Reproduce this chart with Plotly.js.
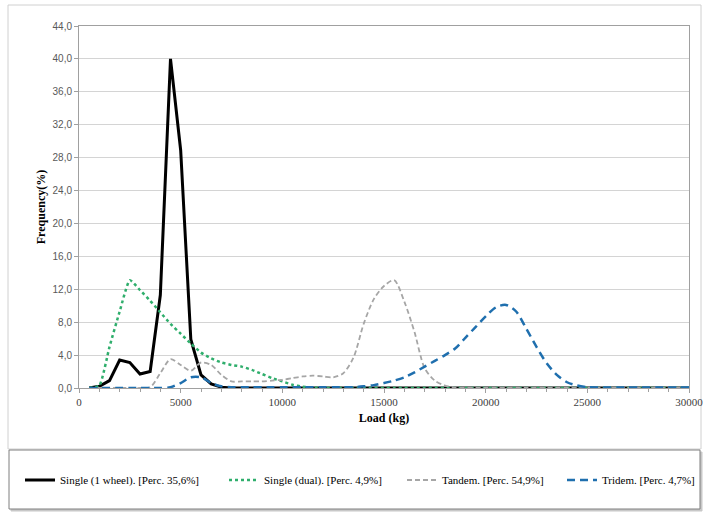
<!DOCTYPE html>
<html>
<head>
<meta charset="utf-8">
<script src="https://cdn.plot.ly/plotly-3.0.1.min.js"></script>
<style>html,body{margin:0;padding:0;background:#fff}#chart{width:709px;height:512px}</style>
</head>
<body>
<div id="chart"></div>
<script>
var loads = [500,1000,1500,2000,2500,3000,3500,4000,4500,5000,
  5500,6000,6500,7000,7500,8000,8500,9000,9500,10000,
  10500,11000,11500,12000,12500,13000,13500,14000,14500,15000,
  15500,16000,16500,17000,17500,18000,18500,19000,19500,20000,
  20500,21000,21500,22000,22500,23000,23500,24000,24500,25000,
  25500,26000,26500,27000,27500,28000,28500,29000,29500,30000];

var singleWheel = [0,0.2,0.9,3.4,3.1,1.7,2.0,11.3,40.0,28.9,
  5.9,1.6,0.5,0.1,0,0,0,0,0,0,
  0,0,0,0,0,0,0,0,0,0,
  0,0,0,0,0,0,0,0,0,0,
  0,0,0,0,0,0,0,0,0,0,
  0,0,0,0,0,0,0,0,0,0];

var singleDual = [0,0.3,5.0,9.3,13.1,11.9,10.6,9.2,7.8,6.6,
  5.4,4.3,3.6,3.1,2.8,2.6,2.2,1.7,1.2,0.8,
  0.4,0.15,0.05,0,0,0,0,0,0,0,
  0,0,0,0,0,0,0,0,0,0,
  0,0,0,0,0,0,0,0,0,0,
  0,0,0,0,0,0,0,0,0,0];

var tandem = [0,0,0,0,0,0,0.1,1.8,3.5,2.8,
  2.1,3.1,2.8,1.6,0.8,0.8,0.8,0.8,0.9,1.0,
  1.2,1.4,1.5,1.4,1.3,1.8,3.7,7.8,10.8,12.4,
  13.1,10.5,6.8,2.4,0.9,0.3,0.05,0,0,0,
  0,0,0,0,0,0,0,0,0,0,
  0,0,0,0,0,0,0,0,0,0];

var tridem = [0,0,0,0,0,0,0,0,0.1,0.6,
  1.3,1.3,0.6,0.2,0.1,0.1,0.1,0.1,0.1,0.1,
  0.1,0.1,0.1,0.1,0.1,0.1,0.1,0.2,0.35,0.6,
  0.9,1.3,1.9,2.6,3.3,4.0,4.8,6.1,7.4,8.7,
  9.8,10.1,9.3,7.2,5.0,3.0,1.6,0.7,0.3,0.1,
  0.05,0.05,0.05,0.05,0.05,0.05,0.05,0.05,0.05,0.05];

var seriesNames = ['Single (1 wheel). [Perc. 35,6%]','Single (dual). [Perc. 4,9%]','Tandem. [Perc. 54,9%]','Tridem. [Perc. 4,7%]'];

var serif = '"Liberation Serif", "Times New Roman", serif';

var traces = [
  {x: loads, y: singleWheel, name: seriesNames[0], type: 'scatter', mode: 'lines',
   line: {color: '#000000', width: 3}, legend: 'legend'},
  {x: loads, y: singleDual, name: seriesNames[1], type: 'scatter', mode: 'lines',
   line: {color: '#2fae6c', width: 2.5, dash: 'dot', shape: 'spline', smoothing: 0.5}, legend: 'legend2'},
  {x: loads, y: tandem, name: seriesNames[2], type: 'scatter', mode: 'lines',
   line: {color: '#a6a6a6', width: 1.8, dash: '5px,3px', shape: 'spline', smoothing: 0.8}, legend: 'legend3'},
  {x: loads, y: tridem, name: seriesNames[3], type: 'scatter', mode: 'lines',
   line: {color: '#1f6fae', width: 2.5, dash: '8px,5px', shape: 'spline', smoothing: 0.8}, legend: 'legend4'}
];

function px2x(p){ return (p - 79) / 610; }
function px2y(p){ return (388 - p) / 362; }

function legendAt(px){
  return {x: px2x(px), xanchor: 'left', y: px2y(480), yanchor: 'middle', orientation: 'h',
    bgcolor: 'rgba(0,0,0,0)', borderwidth: 0, font: {family: serif, size: 11, color: '#000'}};
}

var layout = {
  width: 709, height: 512,
  margin: {l: 79, r: 20, t: 26, b: 124, autoexpand: false},
  paper_bgcolor: '#ffffff', plot_bgcolor: '#ffffff',
  separators: ', ',
  showlegend: true,
  legend: legendAt(20),
  legend2: legendAt(224),
  legend3: legendAt(402),
  legend4: legendAt(562),
  xaxis: {
    range: [0, 30000], dtick: 5000, tick0: 0, tickformat: 'd', automargin: false,
    showgrid: false, zeroline: false,
    showline: true, linecolor: '#a0a0a0', linewidth: 1, mirror: true,
    ticks: 'outside', ticklen: 4, tickcolor: '#a0a0a0',
    minor: {dtick: 1000, ticks: 'outside', ticklen: 3, tickcolor: '#a0a0a0', showgrid: false},
    tickfont: {family: serif, size: 11, color: '#404040'},
    title: {text: '<b>Load (kg)</b>', font: {family: serif, size: 12, color: '#000'}, standoff: 6}
  },
  yaxis: {
    range: [0, 44], dtick: 4, tick0: 0, tickformat: '.1f', automargin: false,
    showgrid: true, gridcolor: '#d4d4d4', gridwidth: 1, zeroline: false,
    showline: true, linecolor: '#a0a0a0', linewidth: 1, mirror: true,
    ticks: 'outside', ticklen: 4, tickcolor: '#a0a0a0',
    tickfont: {family: '"Liberation Sans", Arial, sans-serif', size: 10, color: '#595959'},
    title: {text: '<b>Frequency(%)</b>', font: {family: serif, size: 12, color: '#000'}, standoff: 4}
  },
  shapes: [
    {type: 'rect', xref: 'paper', yref: 'paper', layer: 'below',
     x0: px2x(8), x1: px2x(701), y0: px2y(449), y1: px2y(5),
     line: {color: '#d0d0d0', width: 1}, fillcolor: 'rgba(0,0,0,0)'},
    {type: 'rect', xref: 'paper', yref: 'paper', layer: 'below',
     x0: px2x(11), x1: px2x(702), y0: px2y(511), y1: px2y(452),
     line: {color: '#c8c8c8', width: 1}, fillcolor: '#c8c8c8'},
    {type: 'rect', xref: 'paper', yref: 'paper', layer: 'below',
     x0: px2x(9), x1: px2x(700), y0: px2y(509), y1: px2y(450),
     line: {color: '#7f7f7f', width: 1}, fillcolor: '#ffffff'}
  ]
};

Plotly.newPlot('chart', traces, layout, {displayModeBar: false, staticPlot: true});
</script>
</body>
</html>
